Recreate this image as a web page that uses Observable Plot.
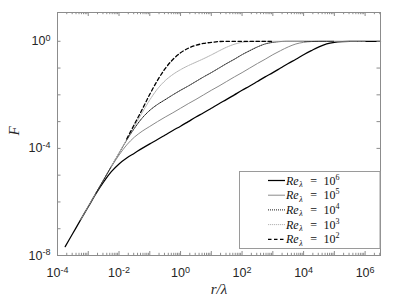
<!DOCTYPE html>
<html><head><meta charset="utf-8">
<script src="https://cdn.jsdelivr.net/npm/d3@7"></script>
<script src="https://cdn.jsdelivr.net/npm/@observablehq/plot@0.6"></script>
<style>body{margin:0;background:#fff;} svg{overflow:visible}</style>
</head><body><div id="chart"></div>
<script>
// log10(r/lambda) grid shared by all curves
const rExp = [-3.75,-3.5,-3.25,-3,-2.75,-2.5,-2.25,-2,-1.75,-1.5,-1.25,-1,-0.75,-0.5,-0.25,0,0.25,0.5,0.75,1,1.25,1.5,1.75,2,2.25,2.5,2.75,3,3.25,3.5,3.75,4,4.25,4.5,4.75,5,5.25,5.5,5.75,6,6.25,6.5];
// log10(F) (null = curve not drawn there)
const F_Re6 = [-7.67,-7.17,-6.67,-6.18,-5.69,-5.25,-4.87,-4.58,-4.36,-4.18,-4.00,-3.83,-3.67,-3.50,-3.33,-3.17,-3.00,-2.83,-2.67,-2.50,-2.33,-2.17,-2.00,-1.83,-1.67,-1.50,-1.33,-1.17,-1.00,-0.83,-0.67,-0.50,-0.35,-0.21,-0.10,-0.04,-0.01,0,0,0,0,0];
const F_Re5 = [null,null,-6.67,-6.17,-5.67,-5.18,-4.69,-4.25,-3.87,-3.58,-3.36,-3.18,-3.00,-2.83,-2.67,-2.50,-2.33,-2.17,-2.00,-1.83,-1.67,-1.50,-1.33,-1.17,-1.00,-0.83,-0.67,-0.50,-0.35,-0.21,-0.10,-0.04,-0.01,0,0,0,0,0,0,0,null,null];
const F_Re4 = [null,null,null,null,-5.67,-5.17,-4.67,-4.18,-3.69,-3.25,-2.87,-2.58,-2.36,-2.18,-2.00,-1.83,-1.67,-1.50,-1.33,-1.17,-1.00,-0.83,-0.67,-0.50,-0.35,-0.21,-0.10,-0.04,-0.01,0,0,0,0,0,0,0,null,null,null,null,null,null];
const F_Re3 = [null,null,null,null,null,null,-4.67,-4.17,-3.67,-3.17,-2.67,-2.19,-1.78,-1.47,-1.24,-1.06,-0.91,-0.78,-0.65,-0.51,-0.36,-0.22,-0.11,-0.04,-0.01,0,0,0,0,0,0,0,null,null,null,null,null,null,null,null,null,null];
const F_Re2 = [null,null,null,null,null,null,null,null,-3.65,-3.10,-2.55,-1.98,-1.46,-1.02,-0.68,-0.43,-0.26,-0.15,-0.08,-0.04,-0.01,0,0,0,0,0,0,0,null,null,null,null,null,null,null,null,null,null,null,null,null,null];

const seriesNames = ["10^6","10^5","10^4","10^3","10^2"];
const seriesVals = [F_Re6, F_Re5, F_Re4, F_Re3, F_Re2];
const seriesStyle = [
  {stroke:"#000", strokeWidth:1.25, dash:null},
  {stroke:"#8a8a8a", strokeWidth:1, dash:null},
  {stroke:"#1a1a1a", strokeWidth:1, dash:"1,1"},
  {stroke:"#b4b4b4", strokeWidth:1, dash:"1.2,0.8"},
  {stroke:"#000", strokeWidth:1.3, dash:"3.5,2.5"}
];
const xTickExp = [-4,-3,-2,-1,0,1,2,3,4,5,6];
const xLabelExp = [-4,-2,0,2,4,6];
const yTickExp = [-8,-7,-6,-5,-4,-3,-2,-1,0];
const yLabelExp = [-8,-4,0];

const W = 399, H = 301, mL = 57, mR = 19, mT = 12, mB = 46;
const pw = W - mL - mR, ph = H - mT - mB;

const xMajor = xTickExp.map(e => 10 ** e);
const xMinor = [];
xTickExp.forEach(e => { for (let k = 2; k <= 9; k++) { const v = k * 10 ** e; if (Math.log10(v) <= 6.5) xMinor.push(v); } });
const yMajor = yTickExp.map(e => 10 ** e);

const lineMarks = seriesVals.map((vals, i) => {
  const rows = [];
  vals.forEach((v, j) => { if (v != null) rows.push({r: 10 ** rExp[j], F: 10 ** v}); });
  const s = seriesStyle[i];
  return Plot.line(rows, {x: "r", y: "F", stroke: s.stroke, strokeWidth: s.strokeWidth, strokeDasharray: s.dash, curve: "monotone-x"});
});

const tc = "#8c8c8c";
const fmt = d => "10^" + Math.round(Math.log10(d));
const plot = Plot.plot({
  width: W, height: H, marginLeft: mL, marginRight: mR, marginTop: mT, marginBottom: mB,
  style: {fontFamily: "'Liberation Sans', Arial, sans-serif", fontSize: "12px", color: "#262626", background: "white"},
  x: {type: "log", domain: [1e-4, 10 ** 6.5]},
  y: {type: "log", domain: [1e-8, 10 ** 1.075]},
  marks: [
    ...lineMarks,
    Plot.tickX(xMajor, {x: d => d, insetTop: ph - 4, stroke: tc}),
    Plot.tickX(xMajor, {x: d => d, insetBottom: ph - 4, stroke: tc}),
    Plot.tickX(xMinor, {x: d => d, insetTop: ph - 2.2, stroke: tc}),
    Plot.tickX(xMinor, {x: d => d, insetBottom: ph - 2.2, stroke: tc}),
    Plot.tickY(yMajor, {y: d => d, insetRight: pw - 3.5, stroke: tc}),
    Plot.tickY(yMajor, {y: d => d, insetLeft: pw - 3.5, stroke: tc}),
    Plot.frame({stroke: tc}),
    Plot.axisX({ticks: xLabelExp.map(e => 10 ** e), tickSize: 0, tickPadding: 13, tickFormat: fmt, label: null, fontSize: 12.5}),
    Plot.axisY({ticks: yLabelExp.map(e => 10 ** e), tickSize: 0, tickPadding: 7, tickFormat: fmt, label: null, fontSize: 12.5})
  ]
});
document.getElementById("chart").appendChild(plot);

const svg = d3.select(plot);
// superscripts for tick labels
svg.selectAll("text").each(function() {
  const m = /^10\^(-?\d+)$/.exec(this.textContent);
  if (m) {
    const t = d3.select(this);
    t.text("10");
    t.append("tspan").attr("dy", "-0.5em").attr("font-size", "9px").text(m[1]);
  }
});

const serif = "'Liberation Serif', 'Times New Roman', serif";
// axis titles
svg.append("text").attr("x", 219).attr("y", 294).attr("text-anchor", "middle")
  .attr("font-family", serif).attr("font-style", "italic").attr("font-size", 15).attr("fill", "#262626").text("r/λ");
svg.append("text").attr("transform", "translate(19,131) rotate(-90)").attr("text-anchor", "middle")
  .attr("font-family", serif).attr("font-style", "italic").attr("font-size", 15).attr("fill", "#262626").text("F");

// legend
const lg = svg.append("g").attr("text-anchor", "start");
lg.append("rect").attr("x", 239.5).attr("y", 171.5).attr("width", 140.5).attr("height", 77)
  .attr("fill", "white").attr("stroke", "#9a9a9a").attr("stroke-width", 1);
seriesNames.forEach((name, i) => {
  const y = 180.5 + i * 14.7;
  const s = seriesStyle[i];
  lg.append("line").attr("x1", 268).attr("x2", 285).attr("y1", y).attr("y2", y)
    .attr("stroke", s.stroke).attr("stroke-width", s.strokeWidth).attr("stroke-dasharray", s.dash);
  const t = lg.append("text").attr("x", 286).attr("y", y + 4).attr("text-anchor", "start")
    .attr("font-family", serif).attr("font-size", 12).attr("fill", "#111");
  t.append("tspan").attr("font-style", "italic").text("Re");
  t.append("tspan").attr("font-style", "italic").attr("font-size", 8).attr("dx", 0.5).attr("dy", 2.5).text("λ");
  t.append("tspan").attr("dy", -2.5).attr("dx", 7.5).text("=");
  t.append("tspan").attr("dx", 6.5).text("10");
  t.append("tspan").attr("font-size", 8).attr("dy", -5).text(name.split("^")[1]);
});
</script>
</body></html>
